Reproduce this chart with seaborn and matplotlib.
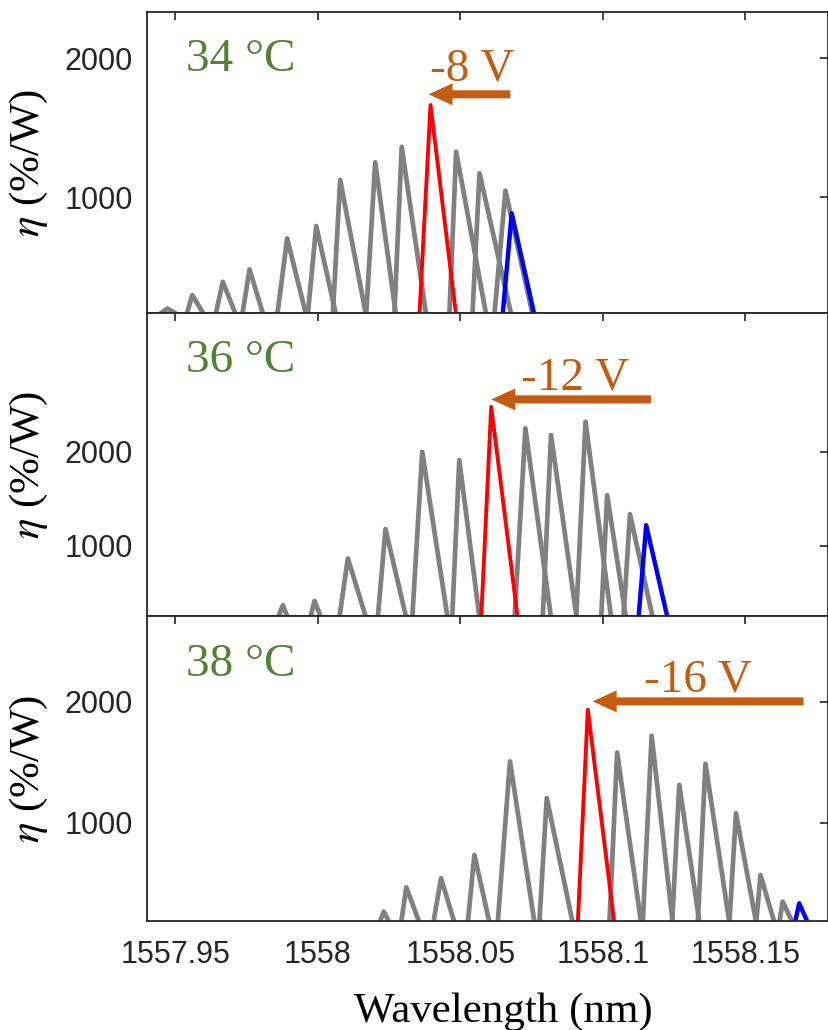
import numpy as np
import pandas as pd
import matplotlib
matplotlib.use("Agg")
import matplotlib.pyplot as plt
import seaborn as sns

sns.set_theme(style="white")
plt.rcParams["font.family"] = ["Liberation Sans", "DejaVu Sans"]
plt.rcParams["mathtext.fontset"] = "stix"

# ---------------- data ----------------
temperatures = ["34 °C", "36 °C", "38 °C"]
voltages = ["-8 V", "-12 V", "-16 V"]
xtick_values = [1557.95, 1558.0, 1558.05, 1558.1, 1558.15]
xtick_labels = ["1557.95", "1558", "1558.05", "1558.1", "1558.15"]
ytick_values = [1000, 2000]

# 34 °C : gray traces (start wl, peak wl, peak eta, end wl)
t34_gray_start = [1557.9437, 1557.9538, 1557.9640, 1557.9734, 1557.9857, 1557.9964,
                  1558.0052, 1558.0169, 1558.0268, 1558.0461, 1558.0542, 1558.0619]
t34_gray_peak = [1557.9472, 1557.9559, 1557.9666, 1557.9760, 1557.9892, 1557.9994,
                 1558.0078, 1558.0201, 1558.0294, 1558.0485, 1558.0567, 1558.0658]
t34_gray_eta = [200, 297, 393, 482, 705, 794, 1125, 1252, 1364, 1328, 1173, 1048]
t34_gray_end = [1557.9514, 1557.9602, 1557.9713, 1557.9809, 1557.9959, 1558.0064,
                1558.0169, 1558.0274, 1558.0380, 1558.0591, 1558.0679, 1558.0754]
t34_red = [1558.0356, 1558.0395, 1664, 1558.0485]
t34_blue = [1558.0648, 1558.0680, 885, 1558.0760]

# 36 °C
t36_gray_start = [1557.9859, 1557.9973, 1558.0075, 1558.0210, 1558.0331, 1558.0471,
                  1558.0690, 1558.0789, 1558.0906, 1558.0994, 1558.1072]
t36_gray_peak = [1557.9877, 1557.9988, 1558.0105, 1558.0237, 1558.0366, 1558.0496,
                 1558.0728, 1558.0818, 1558.0939, 1558.1015, 1558.1095]
t36_gray_eta = [369, 415, 866, 1178, 2000, 1912, 2249, 2178, 2319, 1539, 1337]
t36_gray_end = [1557.9894, 1558.0011, 1558.0169, 1558.0310, 1558.0455, 1558.0567,
                1558.0818, 1558.0908, 1558.1029, 1558.1081, 1558.1175]
t36_red = [1558.0573, 1558.0608, 2479, 1558.0701]
t36_blue = [1558.1125, 1558.1152, 1220, 1558.1227]

# 38 °C
t38_gray_start = [1558.0216, 1558.0292, 1558.0405, 1558.0526, 1558.0631, 1558.0777,
                  1558.1023, 1558.1140, 1558.1243, 1558.1333, 1558.1444, 1558.1538,
                  1558.1619]
t38_gray_peak = [1558.0231, 1558.0310, 1558.0432, 1558.0549, 1558.0674, 1558.0803,
                 1558.1050, 1558.1171, 1558.1268, 1558.1360, 1558.1467, 1558.1553,
                 1558.1631]
t38_gray_eta = [261, 463, 538, 732, 1507, 1203, 1581, 1720, 1313, 1488, 1078, 565, 344]
t38_gray_end = [1558.0251, 1558.0356, 1558.0479, 1558.0602, 1558.0760, 1558.0894,
                1558.1134, 1558.1245, 1558.1339, 1558.1444, 1558.1538, 1558.1602,
                1558.1666]
t38_red = [1558.0912, 1558.0947, 1936, 1558.1040]
t38_blue = [1558.1674, 1558.1689, 330, 1558.1719]

floor_eta = [150, 235, 170]          # trace foot level (below visible range)
ylims = [(166, 2335), (252, 3472), (186, 2711)]
xlim = (1557.94, 1558.179)

panels = [
    (t34_gray_start, t34_gray_peak, t34_gray_eta, t34_gray_end, t34_red, t34_blue),
    (t36_gray_start, t36_gray_peak, t36_gray_eta, t36_gray_end, t36_red, t36_blue),
    (t38_gray_start, t38_gray_peak, t38_gray_eta, t38_gray_end, t38_red, t38_blue),
]

# annotation placement (data coords)
arrow_tip = [1558.0388, 1558.0608, 1558.0964]
arrow_tail = [1558.0675, 1558.1169, 1558.1704]
arrow_eta = [1741, 2557, 2005]
vlabel_wl = [1558.0542, 1558.0902, 1558.1333]
vlabel_eta = [1844, 2667, 2086]


def traces_frame(starts, peaks, etas, ends, floor, prefix):
    rows = []
    for i, (s, p, h, e) in enumerate(zip(starts, peaks, etas, ends)):
        tid = f"{prefix}{i}"
        rows += [(tid, s, floor), (tid, p, h), (tid, e, floor)]
    return pd.DataFrame(rows, columns=["trace", "wl", "eta"])


fig = plt.figure(figsize=(8.29, 10.30), dpi=100)
left, width = 0.1773, 0.8215
boxes = [(0.6958, 0.2928), (0.4017, 0.2941), (0.1061, 0.2956)]
serif = ["Liberation Serif", "DejaVu Serif"]
GREEN = "#548235"
ORANGE = "#C55A11"
DARK = "#262626"

axes = []
for k, ((gs, gp, ge, gend, red, blue), (b, h)) in enumerate(zip(panels, boxes)):
    ax = fig.add_axes([left, b, width, h])
    axes.append(ax)
    fl = floor_eta[k]
    dg = traces_frame(gs, gp, ge, gend, fl, "g")
    dr = traces_frame([red[0]], [red[1]], [red[2]], [red[3]], fl, "r")
    db = traces_frame([blue[0]], [blue[1]], [blue[2]], [blue[3]], fl, "b")
    sns.lineplot(data=dg, x="wl", y="eta", units="trace", estimator=None, sort=False,
                 color="#808080", lw=3.4, ax=ax, legend=False)
    sns.lineplot(data=db, x="wl", y="eta", units="trace", estimator=None, sort=False,
                 color="#0000FF", lw=3.2, ax=ax, legend=False)
    sns.lineplot(data=dr, x="wl", y="eta", units="trace", estimator=None, sort=False,
                 color="#FF0000", lw=2.8, ax=ax, legend=False)

    ax.set_xlim(*xlim)
    ax.set_ylim(*ylims[k])
    ax.set_xticks(xtick_values)
    ax.set_yticks(ytick_values)
    ax.set_yticklabels([str(v) for v in ytick_values])
    ax.tick_params(direction="in", top=True, right=True, length=6, width=1.2,
                   colors=DARK, labelsize=22)
    ax.tick_params(axis="y", pad=10)
    ax.tick_params(axis="x", pad=14)
    if k < 2:
        ax.tick_params(axis="x", labelbottom=False)
        ax.set_xlabel("")
    else:
        ax.set_xticklabels(xtick_labels)
        ax.set_xlabel("Wavelength (nm)", fontsize=31, family=serif, color="black")
        ax.xaxis.set_label_coords(0.523, -0.235)
    ax.set_ylabel(r"$\eta$ (%/W)", fontsize=31, family=serif, color="black")
    ax.yaxis.set_label_coords(-0.142, 0.5)
    for sp in ax.spines.values():
        sp.set_color(DARK)
        sp.set_linewidth(1.3)

    ax.text(0.058, 0.805, temperatures[k], transform=ax.transAxes, fontsize=34,
            color=GREEN, family=serif, ha="left", va="baseline")
    ax.annotate("", xy=(arrow_tip[k], arrow_eta[k]), xytext=(arrow_tail[k], arrow_eta[k]),
                arrowprops=dict(facecolor=ORANGE, edgecolor="none", width=5.8,
                                headwidth=15.8, headlength=17.3, shrink=0))
    ax.text(vlabel_wl[k], vlabel_eta[k], voltages[k], fontsize=34, color=ORANGE,
            family=serif, ha="center", va="baseline")

fig.savefig("out.png", dpi=100)
